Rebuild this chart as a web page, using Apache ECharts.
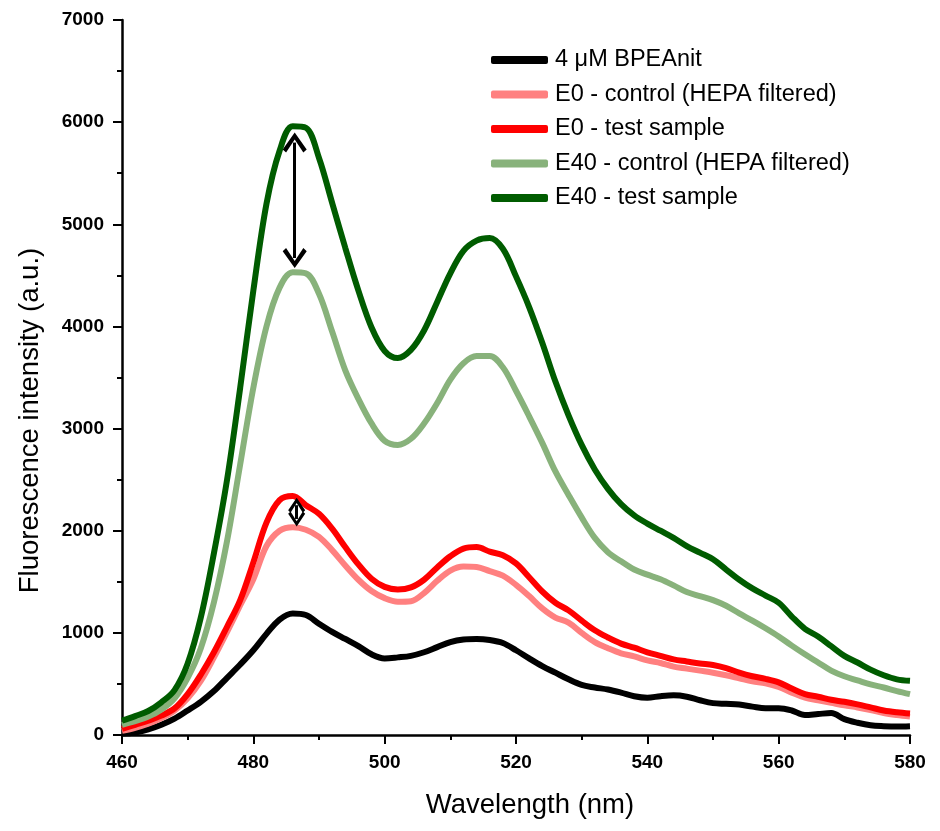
<!DOCTYPE html>
<html>
<head>
<meta charset="utf-8">
<script src="https://cdn.jsdelivr.net/npm/echarts@6/dist/echarts.min.js"></script>
<style>html,body{margin:0;padding:0;background:#fff}#c{width:940px;height:831px}</style>
</head>
<body>
<div id="c"></div>
<script>
var wavelength = [460,462,464,466,468,470,472,474,476,478,480,482,484,486,488,490,492,494,496,498,500,502,504,506,508,510,512,514,516,518,520,522,524,526,528,530,532,534,536,538,540,542,544,546,548,550,552,554,556,558,560,562,564,566,568,570,572,574,576,578,580];

var bpeanit = [15,25,55,100,160,240,325,430,560,690,830,990,1130,1190,1175,1090,1010,940,870,790,750,760,775,810,860,910,935,940,930,900,830,750,675,610,545,490,465,445,415,380,365,380,388,375,340,312,305,298,278,262,262,240,195,205,215,155,120,95,86,82,85];

var e0Control = [40,70,110,165,240,360,530,760,1010,1270,1525,1850,2000,2035,2010,1940,1810,1660,1520,1410,1340,1305,1310,1390,1510,1610,1650,1645,1605,1560,1470,1360,1240,1150,1100,1000,910,850,800,770,730,705,670,650,630,610,585,555,525,505,470,415,365,340,315,290,270,245,215,195,180];

var e0Test = [60,100,140,190,260,400,590,810,1060,1320,1690,2080,2300,2340,2250,2165,2020,1840,1670,1530,1450,1425,1445,1520,1640,1750,1825,1840,1795,1760,1680,1545,1405,1295,1220,1120,1025,955,895,855,810,775,740,720,700,685,655,610,575,550,515,455,400,375,345,325,300,270,240,222,210];

var e40Control = [100,135,180,250,360,560,850,1300,1900,2650,3400,4000,4380,4530,4520,4320,3950,3570,3290,3050,2880,2840,2900,3050,3250,3480,3640,3710,3710,3600,3370,3120,2860,2580,2350,2130,1930,1790,1700,1620,1570,1525,1465,1400,1360,1320,1265,1190,1120,1045,965,875,790,710,630,575,535,495,465,430,400];

var e40Test = [140,185,235,320,440,700,1150,1780,2500,3400,4350,5200,5720,5960,5945,5650,5210,4770,4350,3990,3760,3690,3770,3960,4240,4520,4740,4840,4865,4760,4490,4190,3840,3460,3130,2840,2600,2410,2260,2150,2070,2000,1930,1850,1785,1720,1620,1520,1435,1365,1295,1160,1040,965,870,775,710,640,585,545,530];

var seriesNames = ['4 \u03bcM BPEAnit','E0 - control (HEPA filtered)','E0 - test sample','E40 - control (HEPA filtered)','E40 - test sample'];
var seriesColors = ['#000000','#ff8080','#ff0000','#88b27b','#005c00'];
var seriesValues = [bpeanit, e0Control, e0Test, e40Control, e40Test];

// annotation arrows (data coordinates of the two ends)
var bigArrow = {x: 486.3, from: 5800, to: 4670};
var smallArrow = {x: 486.6, from: 2250, to: 2115};

var chevron = 'path://M5,0 L10,7.0 L8.6,8.3 L5,2.9 L1.4,8.3 L0,7.0 Z';

function pairs(vals){ return wavelength.map(function(w,i){ return [w, vals[i]]; }); }

var FONT = '"Liberation Sans", Arial, sans-serif';
var chart = echarts.init(document.getElementById('c'), null, {renderer:'canvas'});

var series = seriesNames.map(function(n,i){
  var s = {
    name: n, type: 'line', data: pairs(seriesValues[i]), showSymbol: false, symbol: 'none',
    smooth: 0.35, lineStyle: {width: 6, color: seriesColors[i]}, itemStyle: {color: seriesColors[i]},
    z: 2 + i
  };
  if (i === 4) {
    s.markLine = {
      silent: true, symbol: [chevron, chevron], symbolSize: [24, 20],
      label: {show: false}, lineStyle: {color: '#000', width: 3, type: 'solid'},
      data: [
        [{coord: [bigArrow.x, bigArrow.from]}, {coord: [bigArrow.x, bigArrow.to]}],
        [{coord: [smallArrow.x, smallArrow.from], symbolSize: [17, 15]}, {coord: [smallArrow.x, smallArrow.to], symbolSize: [17, 15]}]
      ]
    };
  }
  return s;
});

chart.setOption({
  animation: false,
  backgroundColor: '#fff',
  grid: {left: 122, right: 30, top: 20, bottom: 96},
  legend: {
    orient: 'vertical', left: 486, top: 43, itemWidth: 57, itemHeight: 8, itemGap: 10.5,
    icon: 'roundRect', data: seriesNames,
    textStyle: {fontFamily: FONT, fontSize: 23.5, color: '#000', lineHeight: 24, padding: [0,0,0,2]}
  },
  xAxis: {
    type: 'value', min: 460, max: 580, interval: 20,
    name: 'Wavelength (nm)', nameLocation: 'middle', nameGap: 56,
    nameTextStyle: {fontFamily: FONT, fontSize: 27.5, color: '#000', padding: [0,0,0,28]},
    axisLine: {show: true, onZero: false, lineStyle: {color: '#000', width: 2.5}},
    axisTick: {show: true, length: 9, lineStyle: {color: '#000', width: 2}},
    minorTick: {show: true, splitNumber: 2, length: 5, lineStyle: {color: '#000', width: 2}},
    axisLabel: {fontFamily: FONT, fontSize: 19, fontWeight: 'bold', color: '#000', margin: 18,
      formatter: function(v){ return String(v); }},
    splitLine: {show: false}
  },
  yAxis: {
    type: 'value', min: 0, max: 7000, interval: 1000,
    name: 'Fluorescence intensity (a.u.)', nameLocation: 'middle', nameGap: 78, nameRotate: 90,
    nameTextStyle: {fontFamily: FONT, fontSize: 27.5, color: '#000', padding: [0,86,0,0]},
    axisLine: {show: true, lineStyle: {color: '#000', width: 2.5}},
    axisTick: {show: true, length: 9, lineStyle: {color: '#000', width: 2}},
    minorTick: {show: true, splitNumber: 2, length: 5, lineStyle: {color: '#000', width: 2}},
    axisLabel: {fontFamily: FONT, fontSize: 19, fontWeight: 'bold', color: '#000', margin: 18,
      formatter: function(v){ return String(v); }},
    splitLine: {show: false}
  },
  series: series
});
</script>
</body>
</html>
